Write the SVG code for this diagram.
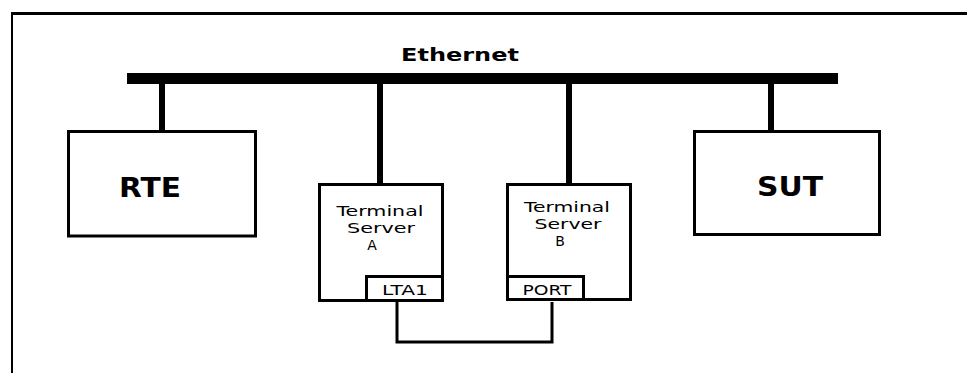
<svg xmlns="http://www.w3.org/2000/svg" width="967" height="373" viewBox="0 0 967 373">
  <style>
    .box { fill: #fff; stroke: #000; stroke-width: 3; }
    .stem { stroke: #000; stroke-width: 6; fill: none; }
    .wire { stroke: #000; stroke-width: 3; fill: none; }
    text { font-family: "DejaVu Sans", "Liberation Sans", sans-serif; fill: #000; text-anchor: middle; }
    .big { font-size: 27px; font-weight: bold; }
    .small { font-size: 14px; }
    .port { font-size: 14px; }
  </style>
  <rect width="967" height="373" fill="#fff"/>

  <!-- page frame -->
  <g id="frame">
    <line x1="11" y1="13.5" x2="967" y2="13.5" stroke="#000" stroke-width="3"/>
    <line x1="12" y1="12" x2="12" y2="373" stroke="#000" stroke-width="2"/>
  </g>

  <!-- ethernet bus -->
  <g id="ethernet">
    <rect x="127" y="73" width="711" height="11" fill="#000"/>
    <text x="460" y="61" font-size="18" font-weight="bold" textLength="118" lengthAdjust="spacingAndGlyphs">Ethernet</text>
  </g>

  <!-- connectors -->
  <g id="connectors">
    <line class="stem" x1="162" y1="84" x2="162" y2="131"/>
    <line class="stem" x1="380" y1="84" x2="380" y2="184"/>
    <line class="stem" x1="569" y1="84" x2="569" y2="184"/>
    <line class="stem" x1="771" y1="84" x2="771" y2="131"/>
    <path class="wire" d="M397 302 V342 H552 V302"/>
  </g>

  <g id="rte">
    <rect class="box" x="68.5" y="131.5" width="187" height="104.5"/>
    <text class="big" x="150" y="197" textLength="62" lengthAdjust="spacingAndGlyphs">RTE</text>
  </g>

  <g id="sut">
    <rect class="box" x="694.5" y="131.5" width="185" height="103"/>
    <text class="big" x="790" y="196" textLength="66" lengthAdjust="spacingAndGlyphs">SUT</text>
  </g>

  <g id="ts-a">
    <rect class="box" x="319.5" y="184.5" width="123" height="116"/>
    <text class="small" x="380" y="216" textLength="87" lengthAdjust="spacingAndGlyphs">Terminal</text>
    <text class="small" x="381" y="233" textLength="68" lengthAdjust="spacingAndGlyphs">Server</text>
    <text class="small" x="372" y="250">A</text>
    <g id="lta1">
      <rect class="box" x="366.5" y="276.5" width="76" height="24"/>
      <text class="port" x="405" y="295" textLength="46" lengthAdjust="spacingAndGlyphs">LTA1</text>
    </g>
  </g>

  <g id="ts-b">
    <rect class="box" x="507.5" y="184.5" width="123" height="115"/>
    <text class="small" x="567" y="212" textLength="86" lengthAdjust="spacingAndGlyphs">Terminal</text>
    <text class="small" x="568" y="229" textLength="67" lengthAdjust="spacingAndGlyphs">Server</text>
    <text class="small" x="560" y="246">B</text>
    <g id="port">
      <rect class="box" x="507.5" y="276.5" width="76" height="23"/>
      <text class="port" x="547" y="295" textLength="49" lengthAdjust="spacingAndGlyphs">PORT</text>
    </g>
  </g>
</svg>
